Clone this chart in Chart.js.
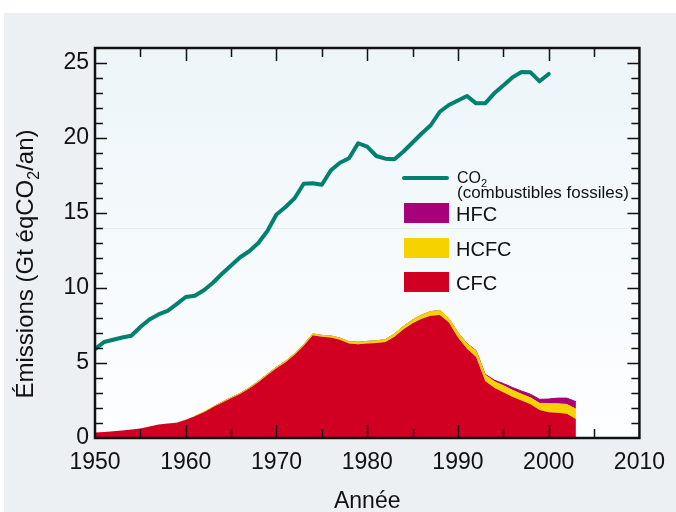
<!DOCTYPE html>
<html>
<head>
<meta charset="utf-8">
<script src="https://cdn.jsdelivr.net/npm/chart.js@4.4.1/dist/chart.umd.min.js"></script>
<style>
html,body{margin:0;padding:0;background:#ffffff;}
canvas{display:block;}
</style>
</head>
<body>
<canvas id="c" width="676" height="512"></canvas>
<script>
// ---- Data ----
const co2Years = [1950,1951,1952,1953,1954,1955,1956,1957,1958,1959,
  1960,1961,1962,1963,1964,1965,1966,1967,1968,1969,
  1970,1971,1972,1973,1974,1975,1976,1977,1978,1979,
  1980,1981,1982,1983,1984,1985,1986,1987,1988,1989,
  1990,1991,1992,1993,1994,1995,1996,1997,1998,1999,2000];
const co2 = [5.93,6.40,6.55,6.70,6.82,7.40,7.90,8.24,8.48,8.93,
  9.40,9.48,9.85,10.35,10.95,11.50,12.05,12.45,13.00,13.80,
  14.90,15.40,15.98,16.95,16.98,16.88,17.85,18.35,18.65,19.65,
  19.42,18.80,18.62,18.58,19.10,19.70,20.30,20.85,21.75,22.20,
  22.50,22.80,22.31,22.31,22.98,23.50,24.04,24.40,24.38,23.78,24.27];

const haloYears = [1950,1951,1952,1953,1954,1955,1956,1957,1958,1959,
  1960,1961,1962,1963,1964,1965,1966,1967,1968,1969,
  1970,1971,1972,1973,1974,1975,1976,1977,1978,1979,
  1980,1981,1982,1983,1984,1985,1986,1987,1988,1989,
  1990,1991,1992,1993,1994,1995,1996,1997,1998,1999,
  2000,2001,2002,2003];
const cfc = [0.36,0.40,0.45,0.50,0.56,0.64,0.76,0.90,0.96,1.02,
  1.22,1.45,1.72,2.05,2.35,2.65,2.93,3.30,3.72,4.20,
  4.65,5.05,5.55,6.15,6.85,6.75,6.70,6.55,6.30,6.25,
  6.30,6.33,6.40,6.75,7.25,7.65,7.95,8.15,8.20,7.70,
  6.70,5.95,5.40,3.80,3.35,3.05,2.75,2.50,2.25,1.87,
  1.72,1.68,1.62,1.27];
const hcfc = [0,0,0,0,0,0,0,0,0,0.01,
  0.02,0.02,0.03,0.03,0.04,0.04,0.05,0.05,0.06,0.06,
  0.07,0.07,0.08,0.08,0.09,0.09,0.10,0.11,0.12,0.13,
  0.14,0.15,0.16,0.18,0.20,0.22,0.25,0.28,0.30,0.26,
  0.32,0.33,0.40,0.40,0.42,0.44,0.44,0.42,0.43,0.44,
  0.58,0.60,0.62,0.66];
const hfc = [0,0,0,0,0,0,0,0,0,0,
  0,0,0,0,0,0,0,0,0,0,
  0,0,0,0,0,0,0,0,0,0,
  0,0,0,0,0,0,0,0,0,0,
  0.01,0.02,0.03,0.05,0.09,0.14,0.18,0.21,0.24,0.27,
  0.30,0.38,0.42,0.49];

const xTickValues = [1950,1960,1970,1980,1990,2000,2010];
const yTickValues = [0,5,10,15,20,25];

// ---- Styles ----
const FONT = '"Liberation Sans", Arial, Helvetica, sans-serif';
const C_CO2 = '#00806f';
const C_HFC = '#a8007a';
const C_HCFC = '#f6d200';
const C_CFC = '#d10022';

function pts(xs, ys){ return xs.map((x,i)=>({x:x, y:ys[i]})); }

const bgPlugin = {
  id:'bg',
  beforeDraw(chart){
    const ctx = chart.ctx, a = chart.chartArea;
    ctx.save();
    ctx.fillStyle = '#ffffff';
    ctx.fillRect(0,0,chart.width,chart.height);
    ctx.fillStyle = '#ecf0f3';
    ctx.fillRect(4,13,chart.width-4,chart.height-13);
    const g = ctx.createLinearGradient(0,a.top,0,a.bottom);
    g.addColorStop(0,'#edf5f9');
    g.addColorStop(1,'#fdfeff');
    ctx.fillStyle = g;
    ctx.fillRect(a.left,a.top,a.right-a.left,a.bottom-a.top);
    // faint scan line
    const yy = chart.scales.y.getPixelForValue(14);
    ctx.strokeStyle = 'rgba(0,0,0,0.05)';
    ctx.lineWidth = 1;
    ctx.beginPath(); ctx.moveTo(a.left, Math.round(yy)+0.5); ctx.lineTo(a.right, Math.round(yy)+0.5); ctx.stroke();
    ctx.restore();
  }
};

const framePlugin = {
  id:'frame',
  afterDraw(chart){
    const ctx = chart.ctx, a = chart.chartArea, xs = chart.scales.x, ys = chart.scales.y;
    ctx.save();
    ctx.strokeStyle = '#111';
    ctx.lineWidth = 1.5;
    // x ticks (inward, top & bottom)
    for (let v = 1955; v < 2010; v += 5){
      const px = Math.round(xs.getPixelForValue(v)) + 0.5;
      const len = (v % 10 === 0) ? 13 : 9;
      ctx.beginPath();
      ctx.moveTo(px, a.bottom); ctx.lineTo(px, a.bottom - len);
      ctx.moveTo(px, a.top); ctx.lineTo(px, a.top + len);
      ctx.stroke();
    }
    // y ticks (inward, left & right)
    for (let v = 1; v <= 25; v++){
      const py = Math.round(ys.getPixelForValue(v)) + 0.5;
      const len = (v % 5 === 0) ? 12 : 8;
      ctx.beginPath();
      ctx.moveTo(a.left, py); ctx.lineTo(a.left + len, py);
      ctx.moveTo(a.right, py); ctx.lineTo(a.right - len, py);
      ctx.stroke();
    }
    ctx.lineWidth = 2.5;
    ctx.strokeRect(a.left, a.top, a.right - a.left, a.bottom - a.top);

    // axis titles
    ctx.fillStyle = '#111';
    ctx.textBaseline = 'alphabetic';
    ctx.font = '23px ' + FONT;
    ctx.textAlign = 'center';
    ctx.fillText('Année', (a.left + a.right)/2, 508);

    // y title with subscript, rotated
    ctx.save();
    ctx.translate(33, 264);
    ctx.rotate(-Math.PI/2);
    const big = '24px ' + FONT, small = '16px ' + FONT;
    const p1 = 'Émissions (Gt éqCO', p2 = '2', p3 = '/an)';
    ctx.font = big; const w1 = ctx.measureText(p1).width, w3 = ctx.measureText(p3).width;
    ctx.font = small; const w2 = ctx.measureText(p2).width;
    let x0 = -(w1 + w2 + w3)/2;
    ctx.textAlign = 'left';
    ctx.font = big; ctx.fillText(p1, x0, 0);
    ctx.font = small; ctx.fillText(p2, x0 + w1, 6);
    ctx.font = big; ctx.fillText(p3, x0 + w1 + w2, 0);
    ctx.restore();

    // legend
    ctx.lineCap = 'round';
    ctx.strokeStyle = C_CO2; ctx.lineWidth = 4;
    ctx.beginPath(); ctx.moveTo(404,178); ctx.lineTo(447,178); ctx.stroke();
    ctx.textAlign = 'left';
    ctx.font = '16px ' + FONT;
    ctx.fillText('CO', 457, 183);
    const wco = ctx.measureText('CO').width;
    ctx.font = '11px ' + FONT;
    ctx.fillText('2', 457 + wco, 187);
    ctx.font = '17px ' + FONT;
    ctx.fillText('(combustibles fossiles)', 457, 198);
    const boxes = [[C_HFC,'HFC',203,221],[C_HCFC,'HCFC',238,256],[C_CFC,'CFC',272,290]];
    ctx.font = '20px ' + FONT;
    boxes.forEach(b => {
      ctx.fillStyle = b[0];
      ctx.fillRect(404, b[2], 45, 20);
      ctx.fillStyle = '#111';
      ctx.fillText(b[1], 456, b[3]);
    });
    ctx.restore();
  }
};

new Chart(document.getElementById('c'), {
  type:'line',
  data:{
    datasets:[
      {label:'CFC', data:pts(haloYears,cfc), stack:'halo', fill:'origin',
       backgroundColor:C_CFC, borderColor:C_CFC, borderWidth:0, pointRadius:0, tension:0},
      {label:'HCFC', data:pts(haloYears,hcfc), stack:'halo', fill:'-1',
       backgroundColor:C_HCFC, borderColor:C_HCFC, borderWidth:1, pointRadius:0, tension:0,
       segment:{borderColor: c => (c.p0.parsed.x < 1961 ? 'rgba(0,0,0,0)' : C_HCFC)}},
      {label:'HFC', data:pts(haloYears,hfc), stack:'halo', fill:'-1',
       backgroundColor:C_HFC, borderColor:C_HFC, borderWidth:1, pointRadius:0, tension:0,
       segment:{borderColor: c => (c.p0.parsed.x < 1963 ? 'rgba(0,0,0,0)' : C_HFC)}},
      {label:'CO2', data:pts(co2Years,co2), stack:'co2', fill:false,
       borderColor:C_CO2, backgroundColor:C_CO2, borderWidth:4, pointRadius:0, tension:0,
       borderCapStyle:'round', borderJoinStyle:'round'}
    ]
  },
  options:{
    responsive:false,
    animation:false,
    devicePixelRatio:1,
    layout:{padding:{top:48, right:33, left:0, bottom:0}},
    plugins:{legend:{display:false}, tooltip:{enabled:false}},
    scales:{
      x:{
        type:'linear', min:1950, max:2010,
        afterFit: s => { s.height = 74; },
        afterBuildTicks: s => { s.ticks = xTickValues.map(v => ({value:v})); },
        grid:{display:false, drawTicks:false},
        border:{display:false},
        ticks:{padding:11, maxRotation:0, autoSkip:false, color:'#111',
               font:{family:FONT, size:23}, callback: v => String(v)}
      },
      y:{
        type:'linear', min:0, max:26, stacked:true,
        afterFit: s => { s.width = 95; },
        afterBuildTicks: s => { s.ticks = yTickValues.map(v => ({value:v})); },
        grid:{display:false, drawTicks:false},
        border:{display:false},
        ticks:{padding:6, color:'#111', font:{family:FONT, size:23}, callback: v => String(v)}
      }
    }
  },
  plugins:[bgPlugin, framePlugin]
});
</script>
</body>
</html>
